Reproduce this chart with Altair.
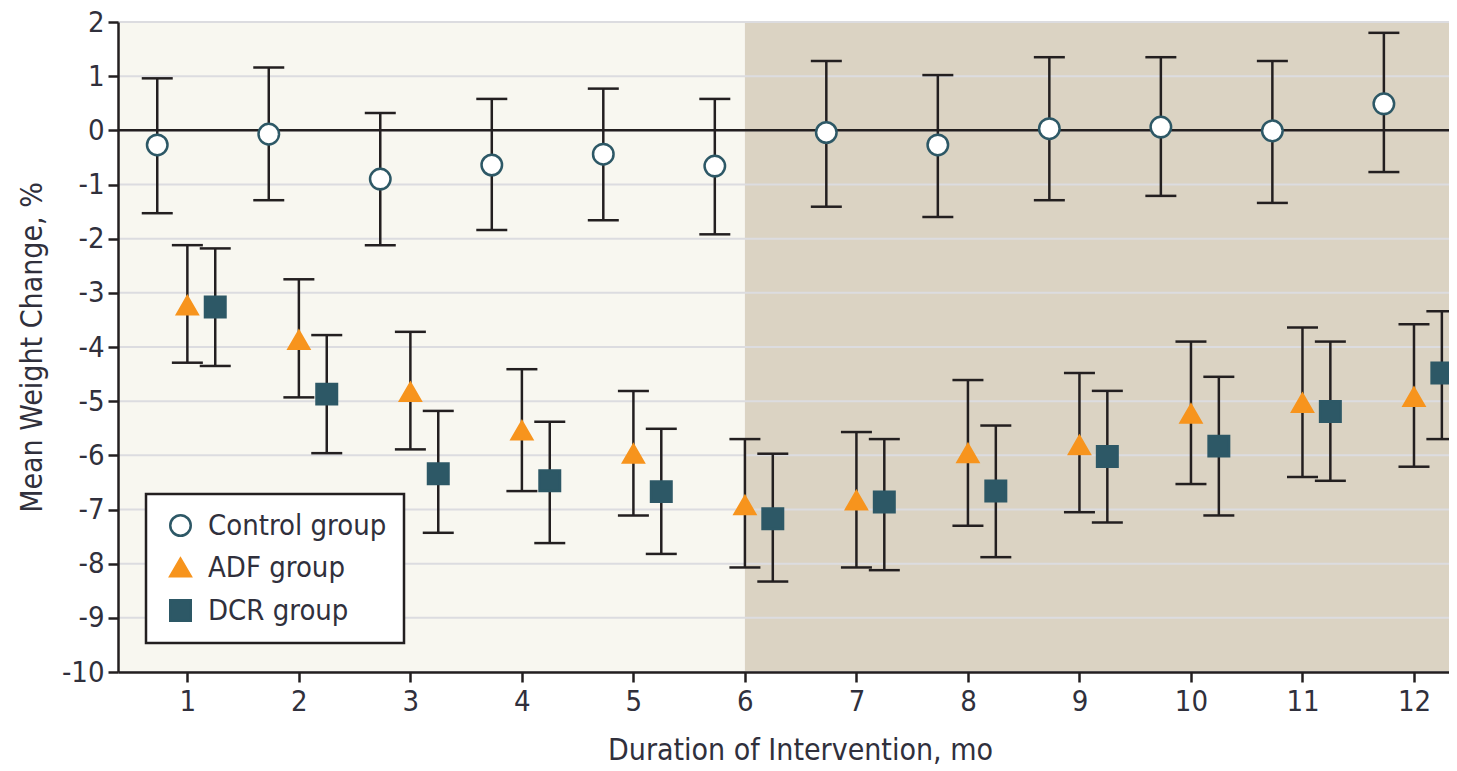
import altair as alt
import pandas as pd

# ---- data ----
months = list(range(1, 13))

control_mean = [-0.27, -0.07, -0.90, -0.64, -0.44, -0.66, -0.04, -0.27, 0.03, 0.06, -0.01, 0.49]
control_lower = [-1.53, -1.29, -2.12, -1.84, -1.66, -1.92, -1.41, -1.60, -1.29, -1.21, -1.34, -0.77]
control_upper = [0.96, 1.16, 0.32, 0.58, 0.77, 0.58, 1.28, 1.02, 1.35, 1.35, 1.28, 1.80]

adf_mean = [-3.23, -3.87, -4.83, -5.54, -5.97, -6.92, -6.83, -5.96, -5.81, -5.23, -5.03, -4.92]
adf_lower = [-4.29, -4.93, -5.89, -6.66, -7.11, -8.07, -8.07, -7.30, -7.05, -6.53, -6.40, -6.21]
adf_upper = [-2.12, -2.75, -3.72, -4.41, -4.81, -5.70, -5.57, -4.61, -4.48, -3.90, -3.64, -3.58]

dcr_mean = [-3.26, -4.87, -6.34, -6.47, -6.67, -7.17, -6.86, -6.66, -6.02, -5.83, -5.19, -4.48]
dcr_lower = [-4.35, -5.96, -7.43, -7.62, -7.82, -8.33, -8.12, -7.88, -7.24, -7.11, -6.47, -5.70]
dcr_upper = [-2.18, -3.78, -5.18, -5.38, -5.51, -5.97, -5.70, -5.45, -4.81, -4.55, -3.90, -3.34]

groups = ["Control group", "ADF group", "DCR group"]
group_offsets = [-0.27, 0.0, 0.25]
fill_colors = ["#ffffff", "#f7941d", "#2d5866"]
stroke_colors = ["#2d5866", "#f7941d", "#2d5866"]
shapes = ["circle", "triangle-up", "square"]

y_ticks = list(range(-10, 3))
x_domain = [0.378, 12.314]
y_domain = [-10, 2]
phase_names = ["Weight loss", "Weight maintenance"]
phase_start = [0.378, 6]
phase_end = [6, 12.314]
phase_colors = ["#f8f7f0", "#dbd3c3"]

# ---- tables ----
rows = []
for g, off, mean, lo, hi in zip(
    groups, group_offsets,
    [control_mean, adf_mean, dcr_mean],
    [control_lower, adf_lower, dcr_lower],
    [control_upper, adf_upper, dcr_upper],
):
    for m, a, b, c in zip(months, mean, lo, hi):
        rows.append({"group": g, "month": m, "offset": off, "mean": a, "lower": b, "upper": c})
df = pd.DataFrame(rows)
phases = pd.DataFrame({"phase": phase_names, "start": phase_start, "end": phase_end})
grid = pd.DataFrame({"v": y_ticks})

FONT = "DejaVu Sans Condensed"
TEXT = "#30303c"
INK = "#231f20"

xscale = alt.Scale(domain=x_domain, nice=False, zero=False)
yscale = alt.Scale(domain=y_domain, nice=False, zero=False)

XT = "Duration of Intervention, mo"
YT = "Mean Weight Change, %"

xaxis = alt.Axis(values=months, grid=False, tickSize=10, tickWidth=2.5, tickColor=INK,
                 domainColor=INK, domainWidth=2.5, labelFontSize=29, labelPadding=5,
                 labelColor=TEXT, labelFont=FONT, titleFont=FONT, titleFontSize=30,
                 titleFontWeight="normal", titleColor=TEXT, titleX=682, titleY=78,
                 titleBaseline="middle", zindex=2)
yaxis = alt.Axis(values=y_ticks, grid=False, tickSize=10, tickWidth=2.5, tickColor=INK,
                 domainColor=INK, domainWidth=2.5, labelFontSize=29, labelPadding=4,
                 labelColor=TEXT, labelFont=FONT, labelExpr="'' + datum.value",
                 titleFont=FONT, titleFontSize=30, titleFontWeight="normal", titleColor=TEXT,
                 titleX=-86, titleY=325, titleBaseline="middle", titleAlign="center", zindex=2)

bg = alt.Chart(phases).mark_rect().encode(
    x=alt.X("start:Q", scale=xscale, axis=xaxis, title=XT),
    x2="end:Q",
    y=alt.datum(y_domain[1], scale=yscale),
    y2=alt.datum(y_domain[0]),
    color=alt.Color("phase:N", scale=alt.Scale(domain=phase_names, range=phase_colors), legend=None),
)

gridlines = alt.Chart(grid).mark_rule(color="#dcdce0", strokeWidth=2).encode(
    y=alt.Y("v:Q", scale=yscale, axis=yaxis, title=YT),
)

zero = alt.Chart(grid).transform_filter("datum.v == 0").mark_rule(color=INK, strokeWidth=2.5).encode(
    y=alt.Y("v:Q", scale=yscale, axis=yaxis, title=YT),
)

base = alt.Chart(df).transform_calculate(xpos="datum.month + datum.offset")

bars = base.mark_rule(color=INK, strokeWidth=2.5).encode(
    x=alt.X("xpos:Q", scale=xscale, axis=xaxis, title=XT),
    y=alt.Y("lower:Q", scale=yscale, axis=yaxis, title=YT),
    y2="upper:Q",
)
cap_lo = base.mark_tick(orient="horizontal", size=31, thickness=2.5, color=INK, opacity=1).encode(
    x=alt.X("xpos:Q", scale=xscale, axis=xaxis, title=XT),
    y=alt.Y("lower:Q", scale=yscale, axis=yaxis, title=YT),
)
cap_hi = base.mark_tick(orient="horizontal", size=31, thickness=2.5, color=INK, opacity=1).encode(
    x=alt.X("xpos:Q", scale=xscale, axis=xaxis, title=XT),
    y=alt.Y("upper:Q", scale=yscale, axis=yaxis, title=YT),
)

pts = base.mark_point(filled=True, opacity=1, size=420, strokeWidth=2.5).encode(
    x=alt.X("xpos:Q", scale=xscale, axis=xaxis, title=XT),
    y=alt.Y("mean:Q", scale=yscale, axis=yaxis, title=YT),
    shape=alt.Shape("group:N", scale=alt.Scale(domain=groups, range=shapes), title=None),
    fill=alt.Fill("group:N", scale=alt.Scale(domain=groups, range=fill_colors), title=None),
    stroke=alt.Stroke("group:N", scale=alt.Scale(domain=groups, range=stroke_colors), title=None),
)

chart = alt.layer(bg, gridlines, zero, bars, cap_lo, cap_hi, pts).properties(
    width=1331,
    height=650,
    padding={"left": 110, "top": 14, "right": 0, "bottom": 95},
    autosize=alt.AutoSizeParams(type="none"),
).configure_view(
    stroke="transparent"
).configure_legend(
    orient="none",
    legendX=28,
    legendY=472,
    strokeColor=INK,
    strokeWidth=2.5,
    fillColor="#ffffff",
    padding=17,
    rowPadding=12,
    symbolSize=420,
    symbolStrokeWidth=2.5,
    symbolOffset=3,
    labelOffset=13,
    labelFont=FONT,
    labelFontSize=29,
    labelColor=TEXT,
    labelLimit=400,
)

chart.save("out.html", embed_options={"renderer": "svg", "actions": False})
